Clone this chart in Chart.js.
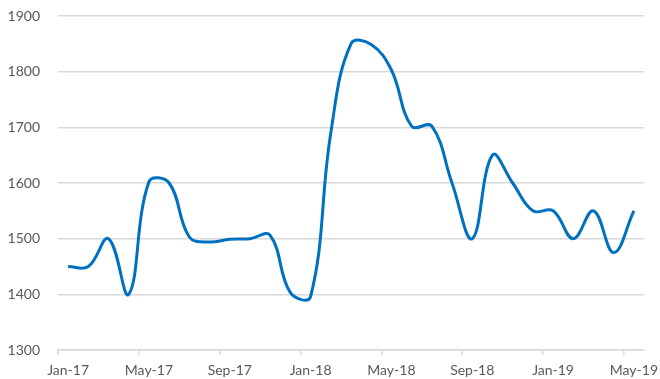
<!DOCTYPE html>
<html>
<head>
<meta charset="utf-8">
<script src="https://cdn.jsdelivr.net/npm/chart.js@4.4.1/dist/chart.umd.min.js"></script>
<style>
  html, body { margin: 0; padding: 0; background: #ffffff; }
  #wrap { width: 660px; height: 379px; }
</style>
</head>
<body>
<div id="wrap"><canvas id="c" width="660" height="379"></canvas></div>
<script>
const categories = [
  "Jan-17","Feb-17","Mar-17","Apr-17","May-17","Jun-17","Jul-17","Aug-17","Sep-17","Oct-17","Nov-17","Dec-17",
  "Jan-18","Feb-18","Mar-18","Apr-18","May-18","Jun-18","Jul-18","Aug-18","Sep-18","Oct-18","Nov-18","Dec-18",
  "Jan-19","Feb-19","Mar-19","Apr-19","May-19"
];
const values = [
  1450, 1450, 1500, 1400, 1602, 1600, 1503, 1494, 1499, 1500, 1506, 1403,
  1396, 1690, 1850, 1849, 1803, 1702, 1702, 1600, 1500, 1650, 1600, 1550,
  1550, 1500, 1550, 1475, 1550
];
const yMin = 1300, yMax = 1900, yStep = 100;
const labelEvery = 4;

new Chart(document.getElementById('c'), {
  type: 'line',
  data: {
    labels: categories,
    datasets: [{
      data: values,
      borderColor: '#0070C0',
      borderWidth: 3,
      pointRadius: 0,
      tension: 0.4,
      fill: false
    }]
  },
  options: {
    responsive: false,
    animation: false,
    layout: { padding: { top: 16, right: 16, left: 0, bottom: 0 } },
    plugins: { legend: { display: false }, tooltip: { enabled: false } },
    scales: {
      x: {
        offset: true,
        grid: {
          offset: true,
          drawOnChartArea: false,
          drawTicks: true,
          tickLength: 5,
          color: function(ctx) {
            return (ctx.index % labelEvery === 0 && ctx.index < categories.length) ? '#d9d9d9' : 'rgba(0,0,0,0)';
          },
          lineWidth: 1.5
        },
        border: { display: true, color: '#d9d9d9', width: 1.5 },
        ticks: {
          autoSkip: false,
          maxRotation: 0,
          minRotation: 0,
          padding: 7,
          color: '#595959',
          font: { family: 'Lato', size: 14 },
          callback: function(val, i) { return i % labelEvery === 0 ? categories[i] : ''; }
        },
        afterFit: function(s) { s.height = 29; s.paddingLeft = 0; s.paddingRight = 0; }
      },
      y: {
        min: yMin,
        max: yMax,
        grid: { color: '#d9d9d9', lineWidth: 1.5, drawTicks: false },
        border: { display: false },
        ticks: {
          stepSize: yStep,
          padding: 18,
          color: '#595959',
          font: { family: 'Lato', size: 14 },
          callback: function(v) { return String(v); }
        },
        afterFit: function(s) { s.width = 58; s.paddingTop = 0; s.paddingBottom = 0; }
      }
    }
  }
});
</script>
</body>
</html>
